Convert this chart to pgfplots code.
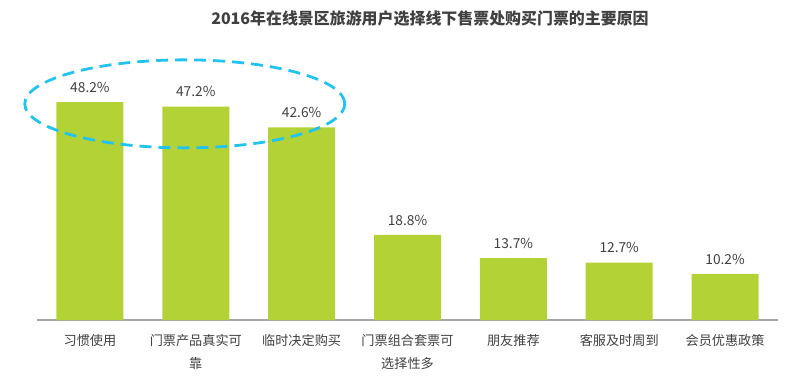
\documentclass[border=0pt]{standalone}
\usepackage{pgfplots}
\pgfplotsset{compat=1.18}
\usepackage{fontspec}
\setmainfont{Noto Sans CJK SC}
\newfontfamily\cjk{Noto Sans CJK SC}
\definecolor{bargreen}{HTML}{B2D235}
\definecolor{txt}{HTML}{404040}
\definecolor{ell}{HTML}{22C3EE}
\begin{document}
\begin{tikzpicture}
\useasboundingbox (-37bp,-58bp) rectangle (759bp,320bp);
\begin{axis}[
  scale only axis,
  width=741bp, height=260bp,
  xmin=-0.5, xmax=6.5, ymin=0, ymax=57.5,
  axis lines*=none,
  hide y axis,
  axis x line*=bottom,
  x axis line style={draw=black!35, line width=1.2bp},
  ytick=\empty,
  xtick={0,...,6},
  xtick style={draw=none},
  xticklabels={习惯使用,门票产品真实可\\靠,临时决定购买,门票组合套票可\\选择性多,朋友推荐,客服及时周到,会员优惠政策},
  xticklabel style={align=center, font=\cjk\fontsize{13.2}{23}\selectfont, text=txt, yshift=-11bp},
  /pgf/number format/assume math mode=true,
  nodes near coords={\pgfmathprintnumber[fixed,precision=1,fixed zerofill]{\pgfplotspointmeta}\%},
  every node near coord/.append style={font=\cjk\fontsize{13.8}{15}\selectfont, text=txt, yshift=6bp},
  clip=false,
]
\addplot[ybar, bar width=67bp, fill=bargreen, draw=none] coordinates {
(0,48.2) (1,47.2) (2,42.6) (3,18.8) (4,13.7) (5,12.7) (6,10.2)};
\draw[ell, line width=2.8bp, dash pattern=on 12bp off 7bp] (axis cs:0.896,47.8) ellipse [x radius=160bp, y radius=44bp];
\end{axis}
\node[font=\cjk\bfseries\fontsize{16}{18}\selectfont, text=txt] at (393bp,302bp) {2016年在线景区旅游用户选择线下售票处购买门票的主要原因};
\end{tikzpicture}
\end{document}
